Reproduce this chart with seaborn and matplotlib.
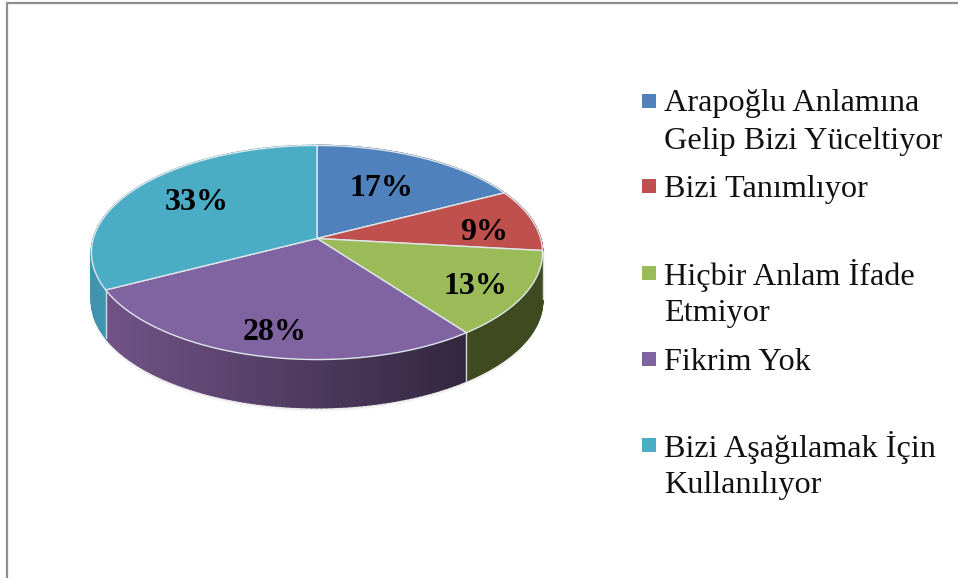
import numpy as np
import matplotlib
matplotlib.use("Agg")
import matplotlib.pyplot as plt
import seaborn as sns

# values, read from where the slice edges fall (labels show them rounded)
categories = [
    "Arapoğlu Anlamına\nGelip Bizi Yüceltiyor",
    "Bizi Tanımlıyor",
    "Hiçbir Anlam İfade\nEtmiyor",
    "Fikrim Yok",
    "Bizi Aşağılamak İçin\nKullanılıyor",
]
shares = [17.4, 9.4, 13.0, 27.6, 32.6]

top_colors = ["#4f81bd", "#c0504d", "#9bbb59", "#8064a2", "#4bacc6"]
side_left = ["#3b618e", "#90393a", "#3f4a20", "#715387", "#4094ad"]
side_right = ["#3b618e", "#90393a", "#3f4a20", "#332740", "#4094ad"]
label_pos = [(381, 188), (484, 232), (475, 286), (275, 332), (197, 203)]
legend_y = [101, 186, 273, 359, 445]

# pie geometry in pixels, with a bit of perspective like the 3D chart
CX, CY = 317.0, 238.5
RX, RY = 223.6, 105.2
PERSP = 0.131
DEPTH = 48.0


def project(theta, depth=0.0):
    u, v = np.sin(theta), np.cos(theta)
    w = 1 + PERSP * v
    return CX + RX * u / w, CY - RY * v / w + depth


def mix(c1, c2, t):
    a, b = np.array(matplotlib.colors.to_rgb(c1)), np.array(matplotlib.colors.to_rgb(c2))
    return tuple(a + (b - a) * t)


sns.set_theme(style="white")
plt.rcParams["font.family"] = ["Liberation Serif", "DejaVu Serif"]

fig, ax = plt.subplots(figsize=(9.58, 5.78), dpi=100)
ax.set_position([0, 0, 1, 1])
ax.set_xlim(0, 958)
ax.set_ylim(578, 0)
ax.axis("off")

# outer frame
ax.plot([958, 7, 7], [3, 3, 578], color="#8f8f8f", lw=1.6, solid_joinstyle="miter")

edges = np.radians(np.cumsum([0] + shares) * 3.6)

# soft shadow below the disc
th = np.linspace(0, 2 * np.pi, 200)
for grow, alpha in [(4, 0.05), (2.5, 0.07), (1, 0.09)]:
    sx, sy = project(th, DEPTH + grow)
    ax.fill(sx, sy, color="#555555", alpha=alpha, lw=0, zorder=1)

# side walls, cut in thin strips so the shading can run along the rim
for i in range(len(shares)):
    steps = np.linspace(edges[i], edges[i + 1], 90)
    x_all, _ = project(steps)
    for a, b in zip(steps[:-1], steps[1:]):
        xa, ya = project(a)
        xb, yb = project(b)
        xc, yc = project(b, DEPTH)
        xd, yd = project(a, DEPTH)
        t = (xa - x_all.min()) / (x_all.max() - x_all.min())
        col = mix(side_left[i], side_right[i], t)
        ax.fill([xa, xb, xc, xd], [ya, yb, yc, yd], color=col, lw=1.2, zorder=2)
    # light seam where two walls meet
    xa, ya = project(edges[i + 1])
    xd, yd = project(edges[i + 1], DEPTH)
    if np.cos(edges[i + 1]) < 0:
        ax.plot([xa, xd], [ya, yd], color="#d5dadd", lw=1, zorder=3)

# top surface
for i in range(len(shares)):
    steps = np.linspace(edges[i], edges[i + 1], 120)
    xs, ys = project(steps)
    ax.fill(np.r_[CX, xs], np.r_[CY, ys], facecolor=top_colors[i],
            edgecolor="#dfe6ea", lw=1.0, joinstyle="round", zorder=4)

# percent labels
for share, (lx, ly) in zip(shares, label_pos):
    ax.text(lx, ly, f"{round(share)}%", ha="center", va="center",
            fontsize=23, fontweight="bold", color="black", zorder=5)

# legend
for name, col, y in zip(categories, top_colors, legend_y):
    ax.scatter([649], [y], marker="s", s=108, color=col, lw=0, zorder=5)
    for k, line in enumerate(name.split("\n")):
        ax.text(664, y + 3 + k * 37, line, ha="left", va="center",
                fontsize=23.2, color="#111111", zorder=5)

fig.savefig("out.png", dpi=100)
